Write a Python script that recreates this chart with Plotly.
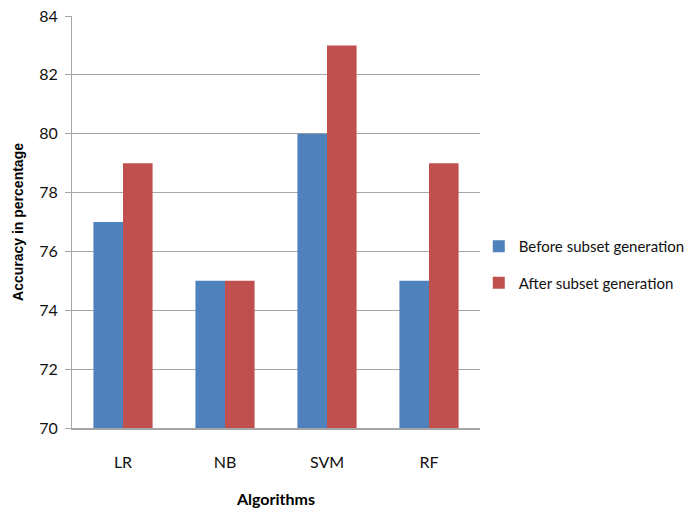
import plotly.graph_objects as go

categories = ["LR", "NB", "SVM", "RF"]
before = [77, 75, 80, 75]
after = [79, 75, 83, 79]
series_names = ["Before subset generation", "After subset generation"]
y_ticks = [70, 72, 74, 76, 78, 80, 82, 84]

fig = go.Figure()
fig.add_trace(go.Bar(x=categories, y=before, name=series_names[0], legendgroup="a",
                     marker=dict(color="#4F81BD", line=dict(width=0))))
fig.add_trace(go.Bar(x=categories, y=after, name=series_names[1], legendgroup="b",
                     marker=dict(color="#C0504D", line=dict(width=0))))

font_main = "Lato, Open Sans, sans-serif"

fig.update_layout(
    width=692, height=514,
    margin=dict(l=72, r=212, t=16, b=86, autoexpand=False),
    paper_bgcolor="white", plot_bgcolor="white",
    barmode="group", bargap=0.42, bargroupgap=0,
    font=dict(family=font_main, size=16, color="#111111"),
    legend=dict(x=0.997, y=0.397, xanchor="left", yanchor="middle",
                font=dict(family=font_main, size=15, color="#111111"),
                tracegroupgap=14, itemwidth=30, bgcolor="rgba(0,0,0,0)"),
    showlegend=True,
)

fig.update_yaxes(
    range=[70, 84], tickvals=y_ticks, ticktext=[str(v) for v in y_ticks],
    showgrid=True, gridcolor="#A6A6A6", gridwidth=1,
    showline=True, linecolor="#A6A6A6", linewidth=1,
    ticks="outside", ticklen=6, tickcolor="#A6A6A6",
    ticklabelstandoff=4, zeroline=False, automargin=False,
    title=dict(text="<b>Accuracy in percentage</b>",
               font=dict(family="Liberation Sans, Arial, sans-serif", size=14, color="black"),
               standoff=12),
)
fig.update_xaxes(
    showline=True, linecolor="#A6A6A6", linewidth=2,
    ticks="", ticklabelstandoff=19, showgrid=False, automargin=False,
    title=dict(text="<b>Algorithms</b>",
               font=dict(family=font_main, size=16, color="black"),
               standoff=24),
)

fig.write_html(
    "out.html",
    config={"displayModeBar": False},
    post_script="document.body.style.margin='0';document.body.style.padding='0';",
)
